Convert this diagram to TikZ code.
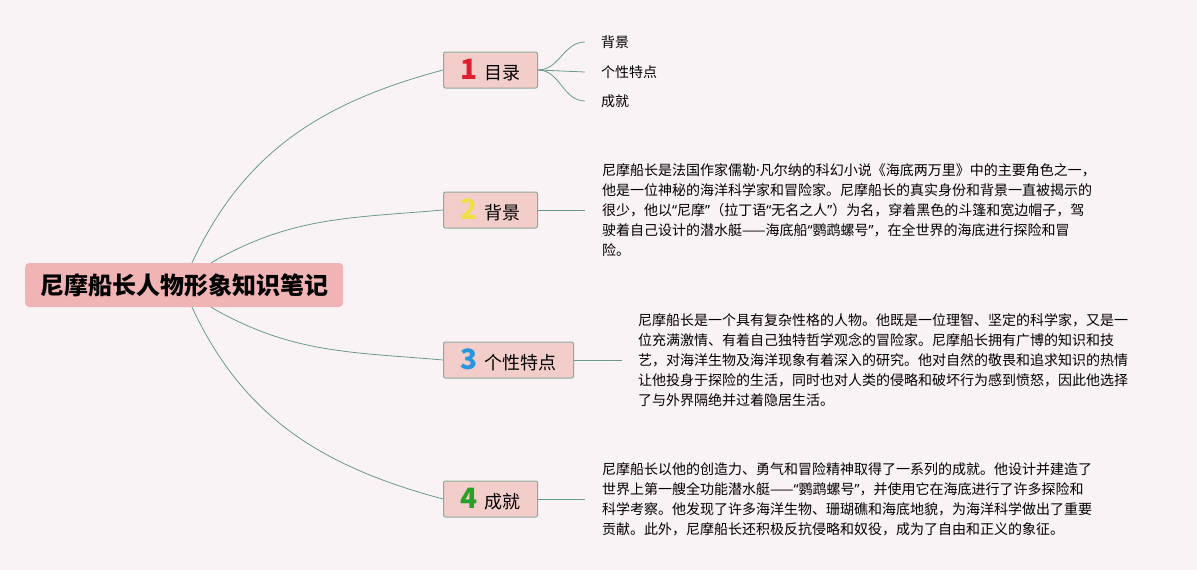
\documentclass[tikz,border=0pt]{standalone}
\usepackage{fontspec}
\setmainfont{Noto Sans CJK SC}
\newfontfamily\latinfont{Noto Sans}
\usepackage{xcolor}
\definecolor{bgpink}{RGB}{250,243,245}
\definecolor{rootpink}{RGB}{241,180,180}
\definecolor{boxpink}{RGB}{243,205,202}
\definecolor{boxedge}{RGB}{140,170,155}
\definecolor{linkgreen}{RGB}{105,155,140}
\definecolor{numred}{RGB}{222,30,50}
\definecolor{numyellow}{RGB}{240,222,70}
\definecolor{numblue}{RGB}{40,150,222}
\definecolor{numgreen}{RGB}{40,160,40}
\newcommand{\bnum}[2]{{\color{#1}\fontsize{28}{28}\selectfont\bfseries #2}\hspace{7pt}}
\newcommand{\oq}{{\latinfont “}}
\newcommand{\cq}{{\latinfont ”}}
\newcommand{\mdot}{{\latinfont ·}}

\begin{document}
\begin{tikzpicture}[x=1pt, y=1pt,
		root/.style={fill=rootpink, rounded corners=4pt, inner xsep=15pt, inner ysep=0pt, minimum height=44pt, font=\fontsize{24}{24}\selectfont\bfseries},
		branch/.style={draw=boxedge, line width=1pt, fill=boxpink, rounded corners=2pt, inner xsep=17pt, inner ysep=0pt, minimum height=36pt, font=\fontsize{18}{18}\selectfont},
		leaf/.style={inner sep=0pt, font=\fontsize{14}{14}\selectfont},
		note/.style={inner sep=0pt, align=left, font=\fontsize{14}{20}\selectfont},
		link/.style={draw=linkgreen, line width=0.8pt}]
		\fill [bgpink] (0,0) rectangle (1197,-570);
		\useasboundingbox (0,0) rectangle (1197,-570);
		
		\node [root, anchor=west] (root) at (25,-285) {尼摩船长人物形象知识笔记};
		
		\node [branch, anchor=west] (b1) at (443,-70) {\bnum{numred}{1}目录};
		\node [branch, anchor=west] (b2) at (443,-210) {\bnum{numyellow}{2}背景};
		\node [branch, anchor=west] (b3) at (443,-360) {\bnum{numblue}{3}个性特点};
		\node [branch, anchor=west] (b4) at (443,-499) {\bnum{numgreen}{4}成就};
		
		% leaves of 1
		\node [leaf, anchor=west] (l1) at (601,-42) {背景};
		\node [leaf, anchor=west] (l2) at (601,-72) {个性特点};
		\node [leaf, anchor=west] (l3) at (601,-101) {成就};
		
		\node [note, anchor=west] (t2) at (602,-210) {尼摩船长是法国作家儒勒\mdot 凡尔纳的科幻小说《海底两万里》中的主要角色之一，\\
			他是一位神秘的海洋科学家和冒险家。尼摩船长的真实身份和背景一直被揭示的\\
			很少，他以\oq 尼摩\cq（拉丁语\oq 无名之人\cq）为名，穿着黑色的斗篷和宽边帽子，驾\\
			驶着自己设计的潜水艇——海底船\oq 鹦鹉螺号\cq，在全世界的海底进行探险和冒\\
			险。};
		
		\node [note, anchor=west] (t3) at (638,-360) {尼摩船长是一个具有复杂性格的人物。他既是一位理智、坚定的科学家，又是一\\
			位充满激情、有着自己独特哲学观念的冒险家。尼摩船长拥有广博的知识和技\\
			艺，对海洋生物及海洋现象有着深入的研究。他对自然的敬畏和追求知识的热情\\
			让他投身于探险的生活，同时也对人类的侵略和破坏行为感到愤怒，因此他选择\\
			了与外界隔绝并过着隐居生活。};
		
		\node [note, anchor=west] (t4) at (602,-499) {尼摩船长以他的创造力、勇气和冒险精神取得了一系列的成就。他设计并建造了\\
			世界上第一艘全功能潜水艇——\oq 鹦鹉螺号\cq，并使用它在海底进行了许多探险和\\
			科学考察。他发现了许多海洋生物、珊瑚礁和海底地貌，为海洋科学做出了重要\\
			贡献。此外，尼摩船长还积极反抗侵略和奴役，成为了自由和正义的象征。};
		
		% root to branches
		\draw [link] ([xshift=167pt]root.north west) to [out=65, in=195] (b1.west);
		\draw [link] ([xshift=186pt]root.north west) to [out=30, in=185] (b2.west);
		\draw [link] ([xshift=186pt]root.south west) to [out=-30, in=175] (b3.west);
		\draw [link] ([xshift=167pt]root.south west) to [out=-65, in=165] (b4.west);
		
		\draw [link] (b1.east) to [out=0, in=180] ([xshift=-16pt]l1.west);
		\draw [link] (b1.east) -- ([xshift=-16pt]l2.west);
		\draw [link] (b1.east) to [out=0, in=180] ([xshift=-16pt]l3.west);
		
		\draw [link] (b2.east) -- ([xshift=-17pt]t2.west);
		\draw [link] (b3.east) -- ([xshift=-16pt]t3.west);
		\draw [link] (b4.east) -- ([xshift=-17pt]t4.west);
	\end{tikzpicture}
\end{document}
